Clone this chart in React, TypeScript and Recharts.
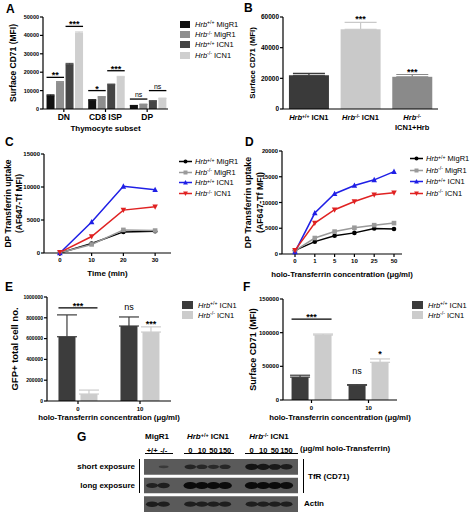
import React from 'react';
import {
  BarChart, Bar, LineChart, Line, ScatterChart, Scatter, XAxis, YAxis,
  ErrorBar, Legend, ReferenceArea,
} from 'recharts';

const FONT = '"Liberation Sans", Arial, Helvetica, sans-serif';

// ---- A: surface CD71 by thymocyte subset
const subsets = ['DN', 'CD8 ISP', 'DP'];
const aSeries = ['Hrb+/+ MigR1', 'Hrb-/- MigR1', 'Hrb+/+ ICN1', 'Hrb-/- ICN1'];
const aColors = ['#111111', '#8e8e8e', '#444444', '#cfcfcf'];
const aWtMigR1 = [7200, 4800, 1800];
const aKoMigR1 = [14600, 6500, 2500];
const aWtICN1 = [24100, 13200, 4300];
const aKoICN1 = [41300, 17400, 5700];
const aWtMigR1Err = [500, 250, 150];
const aKoMigR1Err = [300, 250, 150];
const aWtICN1Err = [700, 350, 200];
const aKoICN1Err = [600, 350, 250];
const aMigR1Sig = ['**', '*', 'ns'];
const aMigR1SigAt = [17200, 10000, 5400];
const aICN1Sig = ['***', '***', 'ns'];
const aICN1SigAt = [44900, 20800, 10000];
const aTicks = [0, 10000, 20000, 30000, 40000, 50000];

// ---- B: rescue with Hrb
const bGroups = ['Hrb+/+ ICN1', 'Hrb-/- ICN1', 'Hrb-/- ICN1+Hrb'];
const bColors = ['#3a3a3a', '#c9c9c9', '#8a8a8a'];
const bValues = [22000, 52000, 21000];
const bErr = [1200, 4500, 1500];
const bSig = ['', '***', '***'];
const bSigAt = [0, 57400, 22800];
const bTicks = [0, 20000, 40000, 60000];

// ---- C / D: transferrin uptake
const lineSeries = ['Hrb+/+ MigR1', 'Hrb-/- MigR1', 'Hrb+/+ ICN1', 'Hrb-/- ICN1'];
const lineColors = ['#000000', '#9a9a9a', '#1f1fe6', '#e02222'];
const lineMarkers = ['circle', 'square', 'up', 'down'];

const cTimes = [0, 10, 20, 30];
const cWtMigR1 = [0, 1450, 3200, 3300];
const cKoMigR1 = [50, 1300, 3500, 3400];
const cWtICN1 = [0, 4700, 10100, 9600];
const cKoICN1 = [100, 2500, 6500, 7000];
const cTicksY = [0, 5000, 10000, 15000];
const cTicksX = [0, 10, 20, 30];

const dConc = ['0', '1', '5', '10', '25', '50'];
const dWtMigR1 = [700, 2400, 3550, 4100, 4950, 4850];
const dKoMigR1 = [650, 3100, 4350, 5100, 5600, 6000];
const dWtICN1 = [400, 7950, 11700, 13300, 14400, 16000];
const dKoICN1 = [700, 6000, 8600, 10200, 11500, 11900];
const dTicksY = [0, 5000, 10000, 15000, 20000];

// ---- E / F: holo-transferrin rescue
const txSeries = ['Hrb+/+ ICN1', 'Hrb-/- ICN1'];
const txColors = ['#3c3c3c', '#cccccc'];
const txConc = ['0', '10'];
const eWt = [618000, 721000];
const eWtErr = [210000, 87000];
const eKo = [67000, 663000];
const eKoErr = [38000, 50000];
const eWtSig = ['***', 'ns'];
const eWtSigAt = [896000, 858000];
const eWtSpan = [2, 1];
const eKoSig = ['', '***'];
const eKoSigAt = [0, 721000];
const eTicks = [0, 200000, 400000, 600000, 800000, 1000000];

const fWt = [34000, 22000];
const fWtErr = [2800, 700];
const fKo = [96500, 56000];
const fKoErr = [1500, 5000];
const fWtSig = ['***', 'ns'];
const fWtSigAt = [120000, 36000];
const fWtSpan = [2, 1];
const fKoSig = ['', '*'];
const fKoSigAt = [0, 65300];
const fTicks = [0, 50000, 100000, 150000];

// ---- G: western blot
const blotRows = ['short exposure', 'long exposure', 'Actin'];
const laneLabels = ['+/+', '-/-', '0', '10', '50', '150', '0', '10', '50', '150'];
const laneGroups = [0, 0, 1, 1, 1, 1, 2, 2, 2, 2];
const shortExposure = [0, 0.15, 0.55, 0.5, 0.45, 0.5, 0.85, 0.8, 0.75, 0.7];
const longExposure = [0.6, 0.65, 1, 1, 1, 1, 1, 1, 1, 0.95];
const actinLevel = [0.7, 0.65, 0.65, 0.65, 0.65, 0.65, 0.65, 0.65, 0.65, 0.65];
const groupStart = [0.7, 4.0, 9.3];

const axisStyle = { stroke: '#000', strokeWidth: 1.2 };
const tickBase = { fill: '#000', fontFamily: FONT, fontWeight: 700 };

function Geno({ name }: { name: string }) {
  const [g, ...rest] = name.split(' ');
  return (
    <>
      <i>Hrb</i>
      <span style={{ fontSize: '0.68em', position: 'relative', top: '-0.45em' }}>{g.replace('Hrb', '')}</span>
      {rest.length ? ' ' + rest.join(' ') : ''}
    </>
  );
}

function AxisTitle(props: any) {
  const vb = props.viewBox || { x: 0, y: 0, width: 0, height: 0 };
  const { lines, dx = 0, size = 8.5, gapPx = 12 } = props;
  const cx = vb.x + dx;
  const cy = vb.y + vb.height / 2;
  return (
    <text transform={`translate(${cx},${cy}) rotate(-90)`} textAnchor="middle" fontFamily={FONT}
      fontSize={size} fontWeight={700} fill="#000">
      {lines.map((l: string, i: number) => (
        <tspan key={i} x={0} dy={i === 0 ? size * 0.35 : gapPx}>{l}</tspan>
      ))}
    </text>
  );
}

function Marker({ kind, cx, cy, color, s = 2.3 }: any) {
  if (kind === 'circle') return <circle cx={cx} cy={cy} r={s} fill={color} />;
  if (kind === 'square') return <rect x={cx - s} y={cy - s} width={2 * s} height={2 * s} fill={color} />;
  if (kind === 'up')
    return <polygon points={`${cx},${cy - s * 1.3} ${cx - s * 1.2},${cy + s} ${cx + s * 1.2},${cy + s}`} fill={color} />;
  return <polygon points={`${cx},${cy + s * 1.3} ${cx - s * 1.2},${cy - s} ${cx + s * 1.2},${cy - s}`} fill={color} />;
}

// legends keep the series order of the figure
const barLegend = (names: string[], colors: string[], rowH: number, sw: number, sh: number) => () => (
  <div style={{ fontFamily: FONT, fontSize: 7.5, color: '#000' }}>
    {names.map((n, i) => (
      <div key={i} style={{ display: 'flex', alignItems: 'center', height: rowH, whiteSpace: 'nowrap' }}>
        <span style={{ display: 'inline-block', width: sw, height: sh, background: colors[i], marginRight: 5 }} />
        <span><Geno name={n} /></span>
      </div>
    ))}
  </div>
);

const lineLegend = (rowH: number) => () => (
  <div style={{ fontFamily: FONT, fontSize: 7.5, color: '#000' }}>
    {lineSeries.map((n, i) => (
      <div key={i} style={{ display: 'flex', alignItems: 'center', height: rowH, whiteSpace: 'nowrap' }}>
        <svg width={13} height={7} style={{ marginRight: 3 }}>
          <line x1={0} x2={13} y1={3.5} y2={3.5} stroke={lineColors[i]} strokeWidth={1.5} />
          <Marker kind={lineMarkers[i]} cx={6.5} cy={3.5} color={lineColors[i]} s={2} />
        </svg>
        <span><Geno name={n} /></span>
      </div>
    ))}
  </div>
);

// bar rectangle plus an optional significance mark, placed with the bar's own scale
function markedBar(fill: string, valueKey: string, sigKey: string | null, gap: number, starSize = 9, nsSize = 7) {
  return (p: any) => {
    const { x, y, width, height, payload } = p;
    if (!(height > 0)) return <g />;
    const v = payload[valueKey];
    const base = y + height;
    const k = height / v;
    const sig = sigKey ? payload[sigKey] : null;
    let mark = null;
    if (sig && sig.text) {
      const yy = base - sig.at * k;
      const x2 = x + sig.span * width + (sig.span - 1) * gap;
      const ns = sig.text === 'ns';
      mark = (
        <g>
          {sig.span > 1 && <line x1={x} x2={x2} y1={yy} y2={yy} stroke="#000" strokeWidth={1.3} />}
          <text x={(x + x2) / 2} y={ns ? yy - 2 : yy + 1} textAnchor="middle" fontFamily={FONT}
            fontSize={ns ? nsSize : starSize} fontWeight={ns ? 400 : 700} fill="#000">{sig.text}</text>
        </g>
      );
    }
    return <g><rect x={x} y={y} width={width} height={height} fill={fill} />{mark}</g>;
  };
}

function BTick(props: any) {
  const { x, y, payload } = props;
  const name: string = payload.value;
  const [g, ...rest] = name.split(' ');
  const tail = rest.join(' ');
  const two = tail.includes('+');
  const sup = g.replace('Hrb', '');
  if (two) {
    return (
      <g>
        <text x={x} y={y + 7} textAnchor="middle" fontFamily={FONT} fontSize={7.5} fontWeight={700} fill="#000">
          <tspan fontStyle="italic">Hrb</tspan>
          <tspan fontSize={5} dy={-2.5}>{sup}</tspan>
        </text>
        <text x={x} y={y + 16.5} textAnchor="middle" fontFamily={FONT} fontSize={7.5} fontWeight={700} fill="#000">{tail}</text>
      </g>
    );
  }
  return (
    <text x={x} y={y + 7} textAnchor="middle" fontFamily={FONT} fontSize={7.5} fontWeight={700} fill="#000">
      <tspan fontStyle="italic">Hrb</tspan>
      <tspan fontSize={5} dy={-2.5}>{sup}</tspan>
      <tspan dy={2.5}>{' ' + tail}</tspan>
    </text>
  );
}

const Letter = ({ x, y, c }: { x: number; y: number; c: string }) => (
  <div style={{ position: 'absolute', left: x, top: y, fontFamily: FONT, fontWeight: 700, fontSize: 12, lineHeight: '12px' }}>{c}</div>
);

const aData = subsets.map((s, i) => ({
  subset: s,
  wtM: aWtMigR1[i], koM: aKoMigR1[i], wtI: aWtICN1[i], koI: aKoICN1[i],
  wtMErr: [0, aWtMigR1Err[i]], koMErr: [0, aKoMigR1Err[i]],
  wtIErr: [0, aWtICN1Err[i]], koIErr: [0, aKoICN1Err[i]],
  sigM: { text: aMigR1Sig[i], at: aMigR1SigAt[i], span: 2 },
  sigI: { text: aICN1Sig[i], at: aICN1SigAt[i], span: 2 },
}));

function PanelA() {
  const gap = 1.5;
  const keys = ['wtM', 'koM', 'wtI', 'koI'];
  const sigs = ['sigM', null, 'sigI', null];
  return (
    <div style={{ position: 'absolute', left: 0, top: 0 }}>
      <BarChart width={240} height={136} data={aData} margin={{ top: 17, right: 72, bottom: 5, left: 3 }}
        barGap={gap} barCategoryGap="8.5%">
        <XAxis dataKey="subset" height={22} tickSize={3} tickMargin={2} interval={0}
          axisLine={axisStyle} tickLine={axisStyle} tick={{ ...tickBase, fontSize: 8.5 }}
          label={{ value: 'Thymocyte subset', position: 'insideBottom', offset: 0, fontSize: 8, fontWeight: 700, fill: '#000', fontFamily: FONT }} />
        <YAxis width={40} domain={[0, 50000]} ticks={aTicks} tickSize={3} tickMargin={1}
          axisLine={axisStyle} tickLine={axisStyle} tick={{ ...tickBase, fontSize: 5.5 }}
          label={<AxisTitle lines={['Surface CD71 (MFI)']} dx={10} size={8.5} />} />
        <Legend layout="vertical" align="center" verticalAlign="middle" content={barLegend(aSeries, aColors, 10.3, 10, 7)}
          wrapperStyle={{ left: 180, top: 19, width: 'auto' }} />
        {keys.map((k, i) => (
          <Bar key={k} dataKey={k} name={aSeries[i]} fill={aColors[i]} isAnimationActive={false}
            shape={markedBar(aColors[i], k, sigs[i], gap)}>
            <ErrorBar dataKey={k + 'Err'} width={4} stroke={aColors[i]} strokeWidth={1} />
          </Bar>
        ))}
      </BarChart>
    </div>
  );
}

const bData = bGroups.map((g, i) => {
  const row: any = { group: g };
  bGroups.forEach((_, j) => {
    row['v' + j] = i === j ? bValues[i] : null;
    row['e' + j] = i === j ? [0, bErr[i]] : null;
    row['s' + j] = i === j ? { text: bSig[i], at: bSigAt[i], span: 1 } : null;
  });
  return row;
});

function PanelB() {
  return (
    <div style={{ position: 'absolute', left: 240, top: 0 }}>
      <BarChart width={234} height={136} data={bData} margin={{ top: 17, right: 36, bottom: 0, left: 3 }}
        barCategoryGap="11.5%">
        <XAxis dataKey="group" height={27} tickSize={3} tickMargin={1} interval={0}
          axisLine={axisStyle} tickLine={false} tick={<BTick />} />
        <YAxis width={40} domain={[0, 60000]} ticks={bTicks} tickSize={3} tickMargin={1}
          axisLine={axisStyle} tickLine={axisStyle} tick={{ ...tickBase, fontSize: 6.5 }}
          label={<AxisTitle lines={['Surface CD71 (MFI)']} dx={9} size={7.8} />} />
        {bGroups.map((g, j) => (
          <Bar key={j} dataKey={'v' + j} stackId="b" fill={bColors[j]} isAnimationActive={false}
            shape={markedBar(bColors[j], 'v' + j, 's' + j, 0)}>
            <ErrorBar dataKey={'e' + j} width={16} stroke={bColors[j]} strokeWidth={1.2} />
          </Bar>
        ))}
      </BarChart>
    </div>
  );
}

const cData = cTimes.map((t, i) => ({ time: t, s0: cWtMigR1[i], s1: cKoMigR1[i], s2: cWtICN1[i], s3: cKoICN1[i] }));
const dData = dConc.map((c, i) => ({ conc: c, s0: dWtMigR1[i], s1: dKoMigR1[i], s2: dWtICN1[i], s3: dKoICN1[i] }));

const dotFor = (i: number) => (p: any) => (
  <Marker key={`m${i}-${p.index}`} kind={lineMarkers[i]} cx={p.cx} cy={p.cy} color={lineColors[i]} />
);

function PanelC() {
  return (
    <div style={{ position: 'absolute', left: 0, top: 130 }}>
      <LineChart width={240} height={150} data={cData} margin={{ top: 24, right: 69, bottom: 4, left: 1 }}>
        <XAxis dataKey="time" type="number" domain={[-5, 35]} ticks={cTicksX} height={23} tickSize={3} tickMargin={2}
          axisLine={axisStyle} tickLine={axisStyle} tick={{ ...tickBase, fontSize: 6 }}
          label={{ value: 'Time (min)', position: 'insideBottom', offset: 0, fontSize: 8, fontWeight: 700, fill: '#000', fontFamily: FONT }} />
        <YAxis width={43} domain={[0, 15000]} ticks={cTicksY} tickSize={3} tickMargin={1}
          axisLine={axisStyle} tickLine={axisStyle} tick={{ ...tickBase, fontSize: 6 }}
          label={<AxisTitle lines={['DP Transferrin uptake', '(AF647-Tf MFI)']} dx={7} size={8.5} gapPx={11.5} />} />
        <Legend layout="vertical" align="center" verticalAlign="middle" content={lineLegend(10.7)}
          wrapperStyle={{ left: 179, top: 26, width: 'auto' }} />
        {lineSeries.map((n, i) => (
          <Line key={i} dataKey={'s' + i} name={n} stroke={lineColors[i]} strokeWidth={1.5}
            dot={dotFor(i)} activeDot={false} isAnimationActive={false} />
        ))}
      </LineChart>
    </div>
  );
}

function PanelD() {
  return (
    <div style={{ position: 'absolute', left: 240, top: 130 }}>
      <LineChart width={234} height={150} data={dData} margin={{ top: 21, right: 72, bottom: 3, left: 1 }}>
        <XAxis dataKey="conc" padding={{ left: 13, right: 8 }} height={23} tickSize={3} tickMargin={2} interval={0}
          axisLine={axisStyle} tickLine={axisStyle} tick={{ ...tickBase, fontSize: 6 }}
          label={{ value: 'holo-Transferrin concentration (μg/ml)', position: 'insideBottom', offset: 0, fontSize: 7.8, fontWeight: 700, fill: '#000', fontFamily: FONT }} />
        <YAxis width={41} domain={[0, 20000]} ticks={dTicksY} tickSize={3} tickMargin={1}
          axisLine={axisStyle} tickLine={axisStyle} tick={{ ...tickBase, fontSize: 5.8 }}
          label={<AxisTitle lines={['DP Transferrin uptake', '(AF647-Tf MFI)']} dx={7} size={8.8} gapPx={11.5} />} />
        <Legend layout="vertical" align="center" verticalAlign="middle" content={lineLegend(11.5)}
          wrapperStyle={{ left: 170, top: 23, width: 'auto' }} />
        {lineSeries.map((n, i) => (
          <Line key={i} dataKey={'s' + i} name={n} stroke={lineColors[i]} strokeWidth={1.5}
            dot={dotFor(i)} activeDot={false} isAnimationActive={false} />
        ))}
      </LineChart>
    </div>
  );
}

const eData = txConc.map((c, i) => ({
  conc: c, wt: eWt[i], ko: eKo[i], wtErr: [0, eWtErr[i]], koErr: [0, eKoErr[i]],
  wtSig: { text: eWtSig[i], at: eWtSigAt[i], span: eWtSpan[i] },
  koSig: { text: eKoSig[i], at: eKoSigAt[i], span: 1 },
}));
const fData = txConc.map((c, i) => ({
  conc: c, wt: fWt[i], ko: fKo[i], wtErr: [0, fWtErr[i]], koErr: [0, fKoErr[i]],
  wtSig: { text: fWtSig[i], at: fWtSigAt[i], span: fWtSpan[i] },
  koSig: { text: fKoSig[i], at: fKoSigAt[i], span: 1 },
}));

function TxPanel({ left, data, yTicks, yMax, yTitle, titleSize, tickSize, yw, ml, mr, gap, cat, legendLeft }: any) {
  return (
    <div style={{ position: 'absolute', left, top: 280 }}>
      <BarChart width={left === 0 ? 240 : 234} height={144} data={data}
        margin={{ top: left === 0 ? 17 : 19, right: mr, bottom: 4, left: ml }} barGap={gap} barCategoryGap={cat}>
        <XAxis dataKey="conc" height={left === 0 ? 19 : 20} tickSize={3} tickMargin={3} interval={0}
          axisLine={axisStyle} tickLine={axisStyle} tick={{ ...tickBase, fontSize: 6 }}
          label={{ value: 'holo-Transferrin concentration (μg/ml)', position: 'insideBottom', offset: 0, fontSize: 7.8, fontWeight: 700, fill: '#000', fontFamily: FONT }} />
        <YAxis width={yw} domain={[0, yMax]} ticks={yTicks} tickSize={3} tickMargin={1}
          axisLine={axisStyle} tickLine={axisStyle} tick={{ ...tickBase, fontSize: tickSize }}
          label={<AxisTitle lines={[yTitle]} dx={left === 0 ? 13 : 11} size={titleSize} />} />
        <Legend layout="vertical" align="center" verticalAlign="middle" content={barLegend(txSeries, txColors, 10, 11, 8)}
          wrapperStyle={{ left: legendLeft, top: 20, width: 'auto' }} />
        <Bar dataKey="wt" name={txSeries[0]} fill={txColors[0]} isAnimationActive={false}
          shape={markedBar(txColors[0], 'wt', 'wtSig', gap, 9, 9)}>
          <ErrorBar dataKey="wtErr" width={10} stroke={txColors[0]} strokeWidth={1.2} />
        </Bar>
        <Bar dataKey="ko" name={txSeries[1]} fill={txColors[1]} isAnimationActive={false}
          shape={markedBar(txColors[1], 'ko', 'koSig', gap, 9, 9)}>
          <ErrorBar dataKey="koErr" width={10} stroke={txColors[1]} strokeWidth={1.2} />
        </Bar>
      </BarChart>
    </div>
  );
}

const laneSlots = laneGroups.map((g, i) => groupStart[g] + (i - laneGroups.indexOf(g)));
const blotLevels = [shortExposure, longExposure, actinLevel];
const blotData = blotRows.map((_, r) => laneSlots.map((slot, i) => ({ slot, row: r, level: blotLevels[r][i] })));

const bandShape = (p: any) => {
  const { cx, cy, payload } = p;
  const L = payload.level;
  if (!L) return <g />;
  const rx = 4.6 + 2.2 * L;
  const ry = 0.9 + 2.7 * L;
  return <ellipse cx={cx} cy={cy} rx={rx} ry={ry} fill="#0b0b0b" fillOpacity={0.3 + 0.7 * L} />;
};

const Txt = ({ x, y, anchor = 'middle', size = 8, children }: any) => (
  <div style={{
    position: 'absolute', left: x, top: y, whiteSpace: 'nowrap', fontFamily: FONT, fontWeight: 700, fontSize: size,
    lineHeight: 1, transform: `translate(${anchor === 'middle' ? '-50%' : anchor === 'end' ? '-100%' : '0'}, -50%)`,
  }}>{children}</div>
);
const HLine = ({ x1, x2, y }: any) => (
  <div style={{ position: 'absolute', left: x1, top: y, width: x2 - x1, height: 1.2, background: '#000' }} />
);
const VLine = ({ x, y1, y2 }: any) => (
  <div style={{ position: 'absolute', left: x, top: y1, width: 1.6, height: y2 - y1, background: '#000' }} />
);

function PanelG() {
  return (
    <>
      <div style={{ position: 'absolute', left: 140, top: 430 }}>
        <ScatterChart width={170} height={87} margin={{ top: 17.5, right: 12, bottom: 3.5, left: 4 }}>
          <XAxis dataKey="slot" type="number" orientation="top" domain={[0, 13.3]} ticks={laneSlots}
            tickFormatter={(_: any, i: number) => laneLabels[i]} interval={0} height={10} tickSize={3} tickMargin={2}
            axisLine={false} tickLine={false} tick={{ ...tickBase, fontSize: 7.5 }} />
          <YAxis dataKey="row" type="number" domain={[-0.5, 2.5]} reversed hide />
          {blotRows.map((_, r) => (
            <ReferenceArea key={r} x1={0} x2={13.3} y1={r - 0.42} y2={r + 0.42} fill="#5a5a5a" fillOpacity={1} stroke="none" />
          ))}
          {blotData.map((d, r) => (
            <Scatter key={r} data={d} shape={bandShape} isAnimationActive={false} />
          ))}
        </ScatterChart>
      </div>
      <Txt x={157} y={437}>MigR1</Txt>
      <Txt x={208} y={437}><Geno name="Hrb+/+ ICN1" /></Txt>
      <Txt x={269} y={437}><Geno name="Hrb-/- ICN1" /></Txt>
      <HLine x1={145} x2={173} y={453} />
      <HLine x1={184} x2={234} y={453} />
      <HLine x1={245} x2={298} y={453} />
      <Txt x={300} y={449} anchor="start">(μg/ml holo-Transferrin)</Txt>
      <VLine x={138.5} y1={459} y2={493} />
      <VLine x={302.5} y1={459} y2={493} />
      <Txt x={135} y={467} anchor="end">{blotRows[0]}</Txt>
      <Txt x={135} y={486} anchor="end">{blotRows[1]}</Txt>
      <Txt x={308} y={477} anchor="start">TfR (CD71)</Txt>
      <Txt x={304} y={504} anchor="start">{blotRows[2]}</Txt>
    </>
  );
}

export default function App() {
  return (
    <div style={{ position: 'absolute', left: 0, top: 0, width: 474, height: 517, background: '#fff', overflow: 'hidden', fontFamily: FONT }}>
      <PanelA />
      <PanelB />
      <PanelC />
      <PanelD />
      <TxPanel left={0} data={eData} yTicks={eTicks} yMax={1000000} yTitle="GFP+ total cell no." titleSize={9.5}
        tickSize={5} yw={45} ml={2} mr={69} gap={5} cat="18.5%" legendLeft={182} />
      <TxPanel left={240} data={fData} yTicks={fTicks} yMax={150000} yTitle="Surface CD71 (MFI)" titleSize={9}
        tickSize={6} yw={41} ml={2} mr={77} gap={6} cat="15%" legendLeft={172} />
      <PanelG />
      <Letter x={6} y={3} c="A" />
      <Letter x={244} y={2} c="B" />
      <Letter x={5} y={136} c="C" />
      <Letter x={245} y={136} c="D" />
      <Letter x={5} y={281} c="E" />
      <Letter x={243} y={281} c="F" />
      <Letter x={77} y={431} c="G" />
    </div>
  );
}
